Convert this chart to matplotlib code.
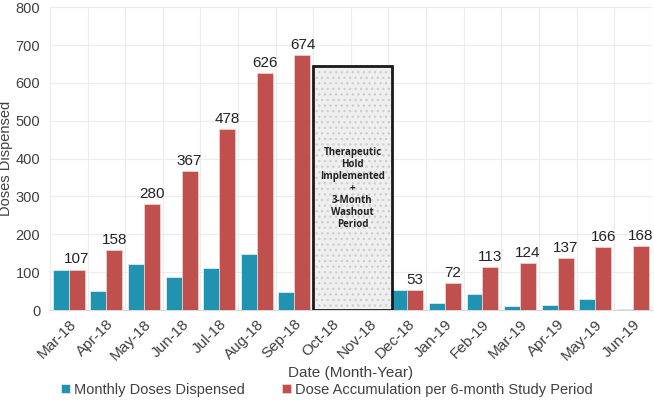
import matplotlib.pyplot as plt
import matplotlib.transforms as mtransforms
import numpy as np
from matplotlib.patches import Rectangle

months = ['Mar-18', 'Apr-18', 'May-18', 'Jun-18', 'Jul-18', 'Aug-18', 'Sep-18', 'Oct-18',
          'Nov-18', 'Dec-18', 'Jan-19', 'Feb-19', 'Mar-19', 'Apr-19', 'May-19', 'Jun-19']
monthly = [107, 51, 122, 87, 111, 148, 48, np.nan, np.nan, 53, 19, 41, 11, 13, 29, 2]
cumulative = [107, 158, 280, 367, 478, 626, 674, np.nan, np.nan, 53, 72, 113, 124, 137, 166, 168]
hold_start, hold_end, hold_height = 'Oct-18', 'Nov-18', 645

teal = '#1F93AF'
red = '#C0504D'
txt = '#404040'

plt.rcParams['font.family'] = ['Liberation Sans', 'DejaVu Sans']

fig = plt.figure(figsize=(6.54, 4.0), dpi=100)
ax = fig.add_axes([0.0765, 0.225, 0.92, 0.757])

x = np.arange(len(months))
w = 0.425
ax.bar(x - w / 2, monthly, w, color=teal, edgecolor='#e8f4f7', linewidth=0.5,
       label='Monthly Doses Dispensed', zorder=3)
ax.bar(x + w / 2, cumulative, w, color=red, edgecolor='#f2d6d5', linewidth=0.5,
       label='Dose Accumulation per 6-month Study Period', zorder=3)

for xi, v in zip(x, cumulative):
    if not np.isnan(v):
        ax.text(xi + w / 2, v + 8, f'{int(v)}', ha='center', va='bottom', fontsize=11, color='#222222')

# therapeutic hold box: dotted fill + black border
i0 = months.index(hold_start)
i1 = months.index(hold_end)
bx, bw = i0 - 0.51, (i1 - i0) + 1.1
ax.add_patch(Rectangle((bx, 0), bw, hold_height, facecolor='#efefef',
                       edgecolor='#cfcfcf', linewidth=0, hatch='...', zorder=4))
ax.add_patch(Rectangle((bx, 0), bw, hold_height, facecolor='none',
                       edgecolor='#1a1a1a', linewidth=2, zorder=5))
ax.text((i0 + i1) / 2 + 0.04, 322,
        'Therapeutic\nHold\nImplemented\n+\n3-Month\nWashout\nPeriod',
        ha='center', va='center', fontsize=7, fontweight='bold', color='#222222',
        family=['Open Sans', 'DejaVu Sans'], linespacing=1.12, zorder=6)

ax.set_xlim(-0.5, len(months) - 0.5)
ax.set_ylim(0, 800)
ax.set_yticks(range(0, 801, 100))
ax.set_xticks(x)
ax.set_xticklabels(months, rotation=45, ha='right', rotation_mode='anchor')
shift = mtransforms.ScaledTranslation(-8 / 100, 0, fig.dpi_scale_trans)
for lab in ax.get_xticklabels():
    lab.set_transform(lab.get_transform() + shift)
ax.set_xticks(np.arange(-0.5, len(months), 1), minor=True)
ax.tick_params(axis='x', which='major', length=0, labelsize=11, colors=txt, pad=5)
ax.tick_params(axis='x', which='minor', length=0)
ax.tick_params(axis='y', length=0, labelsize=10.5, colors=txt, pad=7)
ax.grid(True, axis='y', color='#ececec', linewidth=0.8, zorder=0)
ax.grid(True, axis='x', which='minor', color='#ececec', linewidth=0.8, zorder=0)
for s in ['top', 'right', 'left']:
    ax.spines[s].set_visible(False)
ax.spines['bottom'].set_color('#d9d9d9')

ax.set_xlabel('Date (Month-Year)', fontsize=11, color=txt, labelpad=2)
ax.set_ylabel('Doses Dispensed', fontsize=10.5, color=txt, labelpad=2)

h, l = ax.get_legend_handles_labels()
fig.legend(h, l, loc='lower center', bbox_to_anchor=(0.5, -0.025), ncol=2, frameon=False,
           fontsize=10.5, handlelength=0.6, handleheight=0.6, handletextpad=0.3,
           columnspacing=2.5, labelcolor=txt)

plt.savefig('out.png', dpi=100)
